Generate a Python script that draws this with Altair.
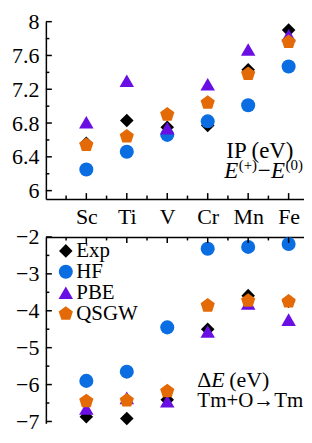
import json
import altair as alt
import pandas as pd

# ---------------- data ----------------
elements = ["Sc", "Ti", "V", "Cr", "Mn", "Fe"]
methods = ["Exp", "HF", "PBE", "QSGW"]

ip_exp = [6.56, 6.83, 6.75, 6.77, 7.43, 7.90]
ip_hf = [6.25, 6.46, 6.66, 6.82, 7.01, 7.47]
ip_pbe = [6.81, 7.30, 6.74, 7.26, 7.67, 7.84]
ip_qsgw = [6.54, 6.64, 6.90, 7.04, 7.38, 7.76]

de_exp = [-6.87, -6.92, -6.41, -4.50, -3.59, -3.74]
de_hf = [-5.90, -5.65, -4.45, -2.32, -2.27, -2.19]
de_pbe = [-6.65, -6.36, -6.45, -4.56, -3.80, -4.24]
de_qsgw = [-6.45, -6.43, -6.18, -3.86, -3.73, -3.75]

ip_major = [6, 6.4, 6.8, 7.2, 7.6, 8]
ip_minor = [6.2, 6.6, 7.0, 7.4, 7.8]
de_major = [-2, -3, -4, -5, -6, -7]
de_minor = [-2.5, -3.5, -4.5, -5.5, -6.5]
x_major = [1, 2, 3, 4, 5, 6]
x_minor = [0.5, 1.5, 2.5, 3.5, 4.5, 5.5]

ip_title = "IP (eV)"
ip_sub = ["E", "(+)", "\u2212", "E", "(0)"]
de_title = ["\u0394", "E", "(eV)"]
de_sub = "Tm+O\u2192TmO"

# ---------------- style ----------------
FONT = "Liberation Serif"
colors = ["#000000", "#0a6de1", "#6a0fe3", "#e36a06"]
pentagon = "M0,-1L0.951,-0.309L0.588,0.809L-0.588,0.809L-0.951,-0.309Z"
shapes = ["diamond", "circle", "triangle-up", pentagon]
sizes = [185, 225, 330, 285]

X_MAX = 6.38
W = 259
H1 = 178
H2 = 187
MAJ = 6
MIN = 3.5


def frame(series):
    rows = []
    for m, vals in zip(methods, series):
        for i, (el, v) in enumerate(zip(elements, vals)):
            rows.append({"element": el, "idx": i + 1, "method": m, "value": v})
    return pd.DataFrame(rows)


df_ip = frame([ip_exp, ip_hf, ip_pbe, ip_qsgw])
df_de = frame([de_exp, de_hf, de_pbe, de_qsgw])

xscale = alt.Scale(domain=[0, X_MAX], nice=False, zero=False)
cscale = alt.Scale(domain=methods, range=colors)
sscale = alt.Scale(domain=methods, range=shapes)
zscale = alt.Scale(domain=methods, range=sizes)
label_expr = json.dumps(elements) + "[datum.value - 1]"

common = dict(title=None, grid=False, ticks=False, labelOverlap=False, labelFlush=False,
              labelFont=FONT, labelFontSize=22, labelColor="black",
              domainColor="black", domainWidth=1.5)

top_x_axis = alt.Axis(orient="bottom", values=x_major, labelExpr=label_expr,
                      labelPadding=8, labelBaseline="top", **common)
top_y_axis = alt.Axis(orient="left", values=ip_major, format=".1~f", labelPadding=7,
                      **common)
bot_x_axis = alt.Axis(orient="top", values=x_major, labels=False, **common)
bot_y_axis = alt.Axis(orient="left", values=de_major, labelPadding=7, **common)

top_y_scale = alt.Scale(domain=[5.9, 8.0], nice=False, zero=False)
bot_y_scale = alt.Scale(domain=[-7.05, -2], nice=False, zero=False)


def points(df, yscale, xaxis, yaxis, legend):
    return alt.Chart(df).mark_point(filled=True, opacity=1, strokeWidth=0).encode(
        x=alt.X("idx:Q", scale=xscale, axis=xaxis),
        y=alt.Y("value:Q", scale=yscale, axis=yaxis),
        color=alt.Color("method:N", scale=cscale, legend=legend),
        shape=alt.Shape("method:N", scale=sscale, legend=legend),
        size=alt.Size("method:N", scale=zscale, legend=legend),
    )


def yticks(vals, length, yaxis):
    return alt.Chart(pd.DataFrame({"value": vals})).mark_rule(
        color="black", strokeWidth=1.5
    ).encode(y=alt.Y("value:Q", axis=yaxis), x=alt.value(0), x2=alt.value(length))


def xticks(vals, y0, y1, xaxis):
    return alt.Chart(pd.DataFrame({"idx": vals})).mark_rule(
        color="black", strokeWidth=1.5
    ).encode(x=alt.X("idx:Q", axis=xaxis), y=alt.value(y0), y2=alt.value(y1))


def text(s, x, y, size=22, style="normal", limit=0):
    return alt.Chart(pd.DataFrame({"t": [s]})).mark_text(
        align="left", baseline="alphabetic", font=FONT, fontSize=size,
        fontStyle=style, color="black", limit=limit, ellipsis="\u200b"
    ).encode(x=alt.value(x), y=alt.value(y), text="t:N")


# ---------------- top panel ----------------
top = alt.layer(
    points(df_ip, top_y_scale, top_x_axis, top_y_axis, None),
    yticks(ip_major, MAJ, top_y_axis),
    yticks(ip_minor, MIN, top_y_axis),
    xticks(x_major, H1, H1 - MAJ, top_x_axis),
    xticks(x_minor, H1, H1 - MIN, top_x_axis),
    text(ip_title, 181, 137, 23),
    text(ip_sub[0], 179, 157, 23, "italic"),
    text(ip_sub[1], 193.5, 149, 15),
    text(ip_sub[2], 212.5, 157, 23),
    text(ip_sub[3], 226, 157, 23, "italic"),
    text(ip_sub[4], 240.5, 149, 15),
).properties(width=W, height=H1)

# ---------------- bottom panel ----------------
legend = alt.Legend(
    orient="none", legendX=9.5, legendY=5, title=None,
    labelFont=FONT, labelFontSize=21, labelColor="black", labelOffset=0,
    clipHeight=18, rowPadding=0, padding=0, symbolStrokeWidth=0, symbolOpacity=1,
)

bottom = alt.layer(
    points(df_de, bot_y_scale, bot_x_axis, bot_y_axis, legend),
    yticks(de_major, MAJ, bot_y_axis),
    yticks(de_minor, MIN, bot_y_axis),
    xticks(x_major, 0, MAJ, bot_x_axis),
    xticks(x_minor, 0, MIN, bot_x_axis),
    text(de_title[0], 152, 151, 22),
    text(de_title[1], 166, 151, 22, "italic"),
    text(de_title[2], 184, 151, 22),
    text(de_sub, 152, 171, 21, limit=W - 152),
).properties(width=W, height=H2)

chart = (
    alt.vconcat(top, bottom, spacing=38, bounds="flush")
    .resolve_scale(x="independent", y="independent", color="independent",
                   shape="independent", size="independent")
    .resolve_legend(color="independent", shape="independent", size="independent")
    .properties(padding={"left": 3, "top": 2, "right": 0, "bottom": 0},
                background="white")
    .configure_view(stroke=None)
    .configure_axis(grid=False, ticks=False, labelOverlap=False, domainColor="black",
                    domainWidth=1.5, labelFont=FONT, labelFontSize=22, labelColor="black")
)

chart.save("out.html", embed_options={"renderer": "svg", "actions": False})
